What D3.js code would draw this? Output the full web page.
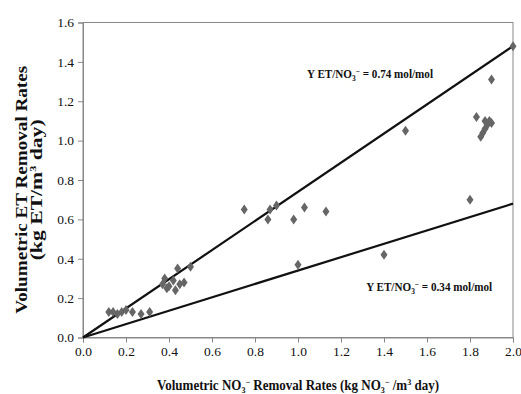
<!DOCTYPE html>
<html>
<head>
<meta charset="utf-8">
<script src="https://cdn.jsdelivr.net/npm/d3@7"></script>
<style>
  body { margin: 0; background: #fff; }
  svg text { font-family: "Liberation Serif", "Times New Roman", serif; fill: #111; }
  .axis path, .axis line { stroke: #888; }
  .axis text { font-size: 13.5px; }
</style>
</head>
<body>
<div id="chart"></div>
<script>
// measured points (x = NO3- removal, y = ET removal)
var xVals = [0.12, 0.14, 0.16, 0.18, 0.20, 0.23, 0.27, 0.31,
  0.37, 0.38, 0.40, 0.42, 0.43, 0.44, 0.45, 0.47, 0.50, 0.39,
  0.75, 0.86, 0.87, 0.90, 0.98, 1.00, 1.03, 1.13, 1.40, 1.50, 1.80,
  1.83, 1.85, 1.86, 1.87, 1.88, 1.89, 1.90, 1.87, 1.90, 2.00];
var yVals = [0.13, 0.13, 0.12, 0.13, 0.14, 0.13, 0.12, 0.13,
  0.27, 0.30, 0.26, 0.29, 0.24, 0.35, 0.27, 0.28, 0.36, 0.25,
  0.65, 0.60, 0.65, 0.67, 0.60, 0.37, 0.66, 0.64, 0.42, 1.05, 0.70,
  1.12, 1.02, 1.04, 1.06, 1.08, 1.10, 1.09, 1.10, 1.31, 1.48];
var slopes = [0.74, 0.34];
var xTicks = [0, 0.2, 0.4, 0.6, 0.8, 1.0, 1.2, 1.4, 1.6, 1.8, 2.0];
var yTicks = [0, 0.2, 0.4, 0.6, 0.8, 1.0, 1.2, 1.4, 1.6];

var margin = { top: 22.5, right: 8, bottom: 57, left: 83 };

var x = d3.scaleLinear().domain([0, 2]).range([0, 430]);
var y = d3.scaleLinear().domain([0, 1.6]).range([315, 0]);

var svg = d3.select("#chart").append("svg")
  .attr("width", 521).attr("height", 394)
  .append("g")
  .attr("transform", "translate(" + margin.left + "," + margin.top + ")");

// frame
svg.append("rect")
  .attr("x", 0).attr("y", 0)
  .attr("width", x(2)).attr("height", y(0))
  .attr("fill", "none").attr("stroke", "#888");

var fmt = d3.format(".1f");
svg.append("g").attr("class", "axis")
  .attr("transform", "translate(0," + y(0) + ")")
  .call(d3.axisBottom(x).tickValues(xTicks).tickFormat(fmt).tickSize(5).tickPadding(4));
svg.append("g").attr("class", "axis")
  .call(d3.axisLeft(y).tickValues(yTicks).tickFormat(fmt).tickSize(5).tickPadding(4));

// fitted lines
var line = d3.line().x(function(d) { return x(d[0]); }).y(function(d) { return y(d[1]); });
slopes.forEach(function(s) {
  svg.append("path")
    .datum([[0, 0], [2, 2 * s]])
    .attr("d", line)
    .attr("fill", "none")
    .attr("stroke", "#111")
    .attr("stroke-width", 2.2);
});

// diamonds
var pts = xVals.map(function(v, i) { return [v, yVals[i]]; });
svg.selectAll(".pt").data(pts).enter().append("path")
  .attr("class", "pt")
  .attr("d", "M0,-5L3.5,0L0,5L-3.5,0Z")
  .attr("fill", "#666")
  .attr("transform", function(d) { return "translate(" + x(d[0]) + "," + y(d[1]) + ")"; });

// line labels
function yieldLabel(tx, ty, val) {
  var t = svg.append("text").attr("x", tx).attr("y", ty)
    .attr("font-size", 12).attr("font-weight", "bold").attr("text-anchor", "middle")
    .attr("textLength", 126).attr("lengthAdjust", "spacingAndGlyphs");
  t.append("tspan").text("Y ET/NO");
  t.append("tspan").attr("font-size", 8).attr("dy", 3).text("3");
  t.append("tspan").attr("font-size", 8).attr("dy", -7).text("\u2212");
  t.append("tspan").attr("dy", 4).text(" = " + val + " mol/mol");
}
yieldLabel(x(1.335), y(1.32), "0.74");
yieldLabel(x(1.61), y(0.235), "0.34");

// x title
var xt = svg.append("text")
  .attr("x", x(1.0)).attr("y", y(0) + 52)
  .attr("text-anchor", "middle").attr("font-size", 14.5).attr("font-weight", "bold")
  .attr("textLength", 282).attr("lengthAdjust", "spacingAndGlyphs");
xt.append("tspan").text("Volumetric NO");
xt.append("tspan").attr("font-size", 9).attr("dy", 3).text("3");
xt.append("tspan").attr("font-size", 9).attr("dy", -8).text("\u2212");
xt.append("tspan").attr("dy", 5).text(" Removal Rates (kg NO");
xt.append("tspan").attr("font-size", 9).attr("dy", 3).text("3");
xt.append("tspan").attr("font-size", 9).attr("dy", -8).text("\u2212");
xt.append("tspan").attr("dy", 5).text(" /m");
xt.append("tspan").attr("font-size", 9).attr("dy", -5).text("3");
xt.append("tspan").attr("dy", 5).text(" day)");

// y title
var yt = svg.append("g")
  .attr("transform", "translate(" + (-margin.left + 27) + "," + y(0.75) + ") rotate(-90)");
yt.append("text").attr("text-anchor", "middle").attr("font-size", 16).attr("font-weight", "bold")
  .attr("textLength", 248).attr("lengthAdjust", "spacingAndGlyphs")
  .text("Volumetric ET Removal Rates");
var yt2 = yt.append("text").attr("y", 15).attr("text-anchor", "middle")
  .attr("font-size", 16).attr("font-weight", "bold")
  .attr("textLength", 141).attr("lengthAdjust", "spacingAndGlyphs");
yt2.append("tspan").text("(kg ET/m");
yt2.append("tspan").attr("font-size", 9).attr("dy", -6).text("3");
yt2.append("tspan").attr("dy", 6).text(" day)");
</script>
</body>
</html>
